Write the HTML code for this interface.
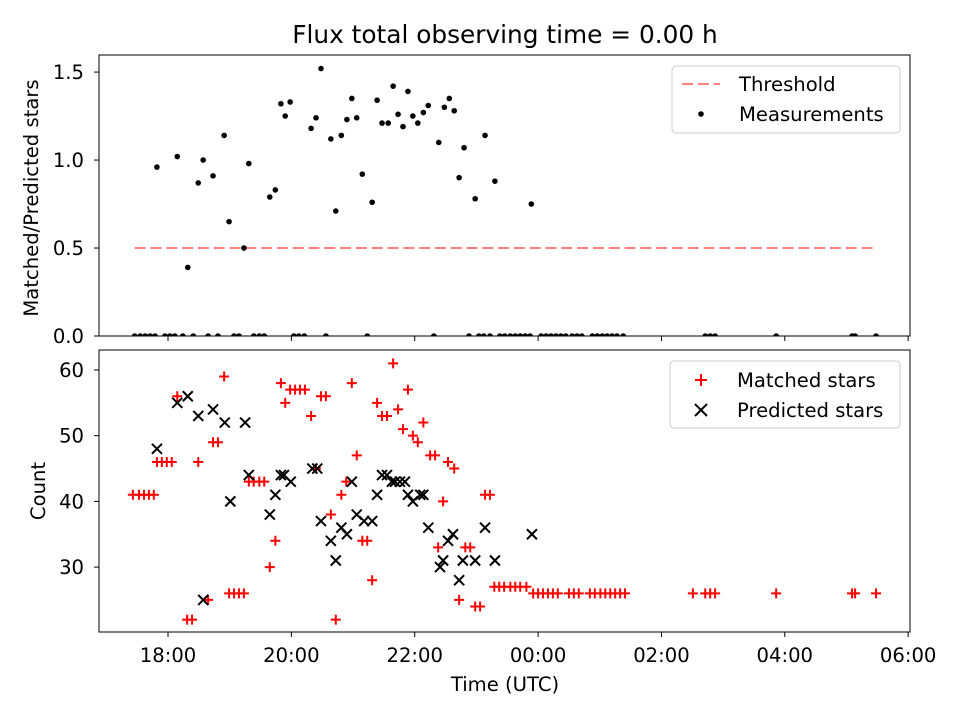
<!DOCTYPE html>
<html><head><meta charset="utf-8"><style>
body{margin:0;background:#fff;}
svg{display:block;font-family:"DejaVu Sans","Liberation Sans",sans-serif;}
</style></head><body>
<svg id="chart" width="960" height="720"></svg>
<script>
const measTimes=[17.82,18.15,18.32,18.49,18.57,18.73,18.91,18.99,19.23,19.31,19.65,19.74,19.83,19.90,19.98,20.32,20.40,20.48,20.64,20.72,20.81,20.90,20.98,21.06,21.15,21.31,21.39,21.47,21.57,21.65,21.73,21.81,21.89,21.97,22.05,22.14,22.22,22.39,22.48,22.56,22.64,22.72,22.80,22.98,23.14,23.30,23.89];
const measValues=[0.96,1.02,0.39,0.87,1.00,0.91,1.14,0.65,0.50,0.98,0.79,0.83,1.32,1.25,1.33,1.18,1.24,1.52,1.12,0.71,1.14,1.23,1.35,1.24,0.92,0.76,1.34,1.21,1.21,1.42,1.26,1.19,1.39,1.25,1.21,1.27,1.31,1.10,1.30,1.35,1.28,0.90,1.07,0.78,1.14,0.88,0.75];
const zeroTimes=[17.46,17.55,17.63,17.71,17.79,17.95,18.03,18.11,18.24,18.41,18.65,18.81,19.07,19.15,19.39,19.48,19.56,20.04,20.12,20.21,20.56,21.23,22.31,22.88,23.04,23.12,23.22,23.38,23.46,23.55,23.63,23.71,23.79,23.87,24.05,24.13,24.21,24.29,24.37,24.45,24.55,24.63,24.71,24.88,24.96,25.04,25.12,25.20,25.28,25.38,26.71,26.79,26.87,27.86,29.09,29.14,29.48];
const threshold=0.5, thrStart=17.46, thrEnd=29.48;
const matchedTimes=[17.43,17.53,17.61,17.69,17.77,17.82,17.90,17.98,18.06,18.15,18.31,18.39,18.49,18.65,18.73,18.81,18.91,18.99,19.07,19.15,19.23,19.31,19.39,19.48,19.56,19.65,19.74,19.83,19.90,19.98,20.06,20.14,20.22,20.32,20.40,20.48,20.56,20.64,20.72,20.81,20.89,20.98,21.06,21.15,21.23,21.31,21.39,21.47,21.55,21.65,21.73,21.81,21.89,21.97,22.05,22.14,22.25,22.33,22.38,22.46,22.54,22.64,22.72,22.82,22.90,22.98,23.06,23.14,23.22,23.29,23.37,23.45,23.55,23.63,23.71,23.81,23.92,24.00,24.08,24.16,24.24,24.32,24.50,24.58,24.66,24.84,24.92,25.01,25.09,25.17,25.25,25.33,25.41,26.51,26.71,26.79,26.87,27.86,29.09,29.14,29.48];
const matchedCounts=[41,41,41,41,41,46,46,46,46,56,22,22,46,25,49,49,59,26,26,26,26,43,43,43,43,30,34,58,55,57,57,57,57,53,45,56,56,38,22,41,43,58,47,34,34,28,55,53,53,61,54,51,57,50,49,52,47,47,33,40,46,45,25,33,33,24,24,41,41,27,27,27,27,27,27,27,26,26,26,26,26,26,26,26,26,26,26,26,26,26,26,26,26,26,26,26,26,26,26,26,26];
const predTimes=[17.82,18.15,18.32,18.49,18.57,18.73,18.92,19.01,19.25,19.31,19.65,19.74,19.83,19.88,19.99,20.34,20.42,20.48,20.64,20.72,20.81,20.90,20.98,21.06,21.18,21.31,21.39,21.47,21.55,21.63,21.68,21.76,21.84,21.89,21.97,22.09,22.14,22.22,22.41,22.46,22.54,22.62,22.72,22.78,22.98,23.14,23.30,23.90];
const predCounts=[48,55,56,53,25,54,52,40,52,44,38,41,44,44,43,45,45,37,34,31,36,35,43,38,37,37,41,44,44,43,43,43,43,41,40,41,41,36,30,31,34,35,28,31,31,36,31,35];
const xTickHours=[18,20,22,24,26,28,30];
const xTickLabels=["18:00","20:00","22:00","00:00","02:00","04:00","06:00"];
const topTicks=[0,0.5,1.0,1.5];
const topTickLabels=["0.0","0.5","1.0","1.5"];
const botTicks=[30,40,50,60];

const NS="http://www.w3.org/2000/svg";
const svg=document.getElementById('chart');
function el(tag,attrs,parent){const e=document.createElementNS(NS,tag);for(const k in attrs)e.setAttribute(k,attrs[k]);(parent||svg).appendChild(e);return e;}
const L=99,R=910,T1=55,B1=336,T2=350,B2=632;
const xMin=16.881,xMax=30.03;
const FS='19.6';
const X=h=>L+(h-xMin)/(xMax-xMin)*(R-L);
const Y1=v=>B1-(v-0)/1.597*(B1-T1);
const Y2=v=>B2-(v-20.12)/(63.04-20.12)*(B2-T2);
const DASH='11,4.8';

let t=el('text',{x:505,y:43,'text-anchor':'middle','font-size':'24.8'});t.textContent='Flux total observing time = 0.00 h';



const g1=el('g',{});


let th=el('line',{x1:X(thrStart),x2:X(thrEnd),y1:Y1(threshold),y2:Y1(threshold),stroke:'#ff7f7f','stroke-width':2,'stroke-dasharray':DASH},g1);


measTimes.forEach((h,i)=>{const c=el('circle',{cx:X(h),cy:Y1(measValues[i]),r:2.8,fill:'#000'},g1);

});
zeroTimes.forEach(h=>{const c=el('circle',{cx:X(h),cy:Y1(0),r:2.8,fill:'#000'},g1);

});
el('rect',{x:L-5,y:B1+0.5,width:R-L+10,height:T2-B1-1,fill:'#fff'});
let f1=el('rect',{x:L,y:T1,width:R-L,height:B1-T1,fill:'none',stroke:'#000','stroke-width':1});


topTicks.forEach((v,i)=>{el('line',{x1:L-5,x2:L,y1:Y1(v),y2:Y1(v),stroke:'#000'});
const tx=el('text',{x:L-15,y:Y1(v)+7,'text-anchor':'end','font-size':FS});tx.textContent=topTickLabels[i];

});
xTickHours.forEach(h=>el('line',{x1:X(h),x2:X(h),y1:B1,y2:B1+5,stroke:'#000'}));
let yl1=el('text',{x:0,y:0,transform:'translate(38,198) rotate(-90)','text-anchor':'middle','font-size':FS});yl1.textContent='Matched/Predicted stars';



const lg1=el('g',{});


el('rect',{x:672,y:66,width:228,height:67,rx:4,fill:'#fff',stroke:'#ccc'},lg1);
el('line',{x1:682,x2:720,y1:84,y2:84,stroke:'#ff7f7f','stroke-width':2,'stroke-dasharray':DASH},lg1);
let lt=el('text',{x:739,y:91,'font-size':FS},lg1);lt.textContent='Threshold';
el('circle',{cx:701,cy:114,r:2.8,fill:'#000'},lg1);
lt=el('text',{x:739,y:121,'font-size':FS},lg1);lt.textContent='Measurements';

const g2=el('g',{});


matchedTimes.forEach((h,i)=>{const x=X(h),y=Y2(matchedCounts[i]);
const p=el('path',{d:`M${x-5},${y}H${x+5}M${x},${y-5}V${y+5}`,stroke:'#f00','stroke-width':2},g2);

});
predTimes.forEach((h,i)=>{const x=X(h),y=Y2(predCounts[i]);
const p=el('path',{d:`M${x-5},${y-5}L${x+5},${y+5}M${x-5},${y+5}L${x+5},${y-5}`,stroke:'#000','stroke-width':2},g2);

});
let f2=el('rect',{x:L,y:T2,width:R-L,height:B2-T2,fill:'none',stroke:'#000','stroke-width':1});


botTicks.forEach(v=>{el('line',{x1:L-5,x2:L,y1:Y2(v),y2:Y2(v),stroke:'#000'});
const tx=el('text',{x:L-15,y:Y2(v)+7,'text-anchor':'end','font-size':FS});tx.textContent=String(v);

});
xTickHours.forEach((h,i)=>{el('line',{x1:X(h),x2:X(h),y1:B2,y2:B2+5,stroke:'#000'});
const tx=el('text',{x:X(h),y:B2+30,'text-anchor':'middle','font-size':FS});tx.textContent=xTickLabels[i];

});
let yl2=el('text',{x:0,y:0,transform:'translate(45,491) rotate(-90)','text-anchor':'middle','font-size':FS});yl2.textContent='Count';


let xl=el('text',{x:505,y:691,'text-anchor':'middle','font-size':FS});xl.textContent='Time (UTC)';



const lg2=el('g',{});


el('rect',{x:670,y:361,width:230,height:67,rx:4,fill:'#fff',stroke:'#ccc'},lg2);
el('path',{d:'M695,380H707M701,374V386',stroke:'#f00','stroke-width':2},lg2);
lt=el('text',{x:737,y:387,'font-size':FS},lg2);lt.textContent='Matched stars';
el('path',{d:'M695,404L707,416M695,416L707,404',stroke:'#000','stroke-width':2},lg2);
lt=el('text',{x:737,y:417,'font-size':FS},lg2);lt.textContent='Predicted stars';
</script>
</body></html>
